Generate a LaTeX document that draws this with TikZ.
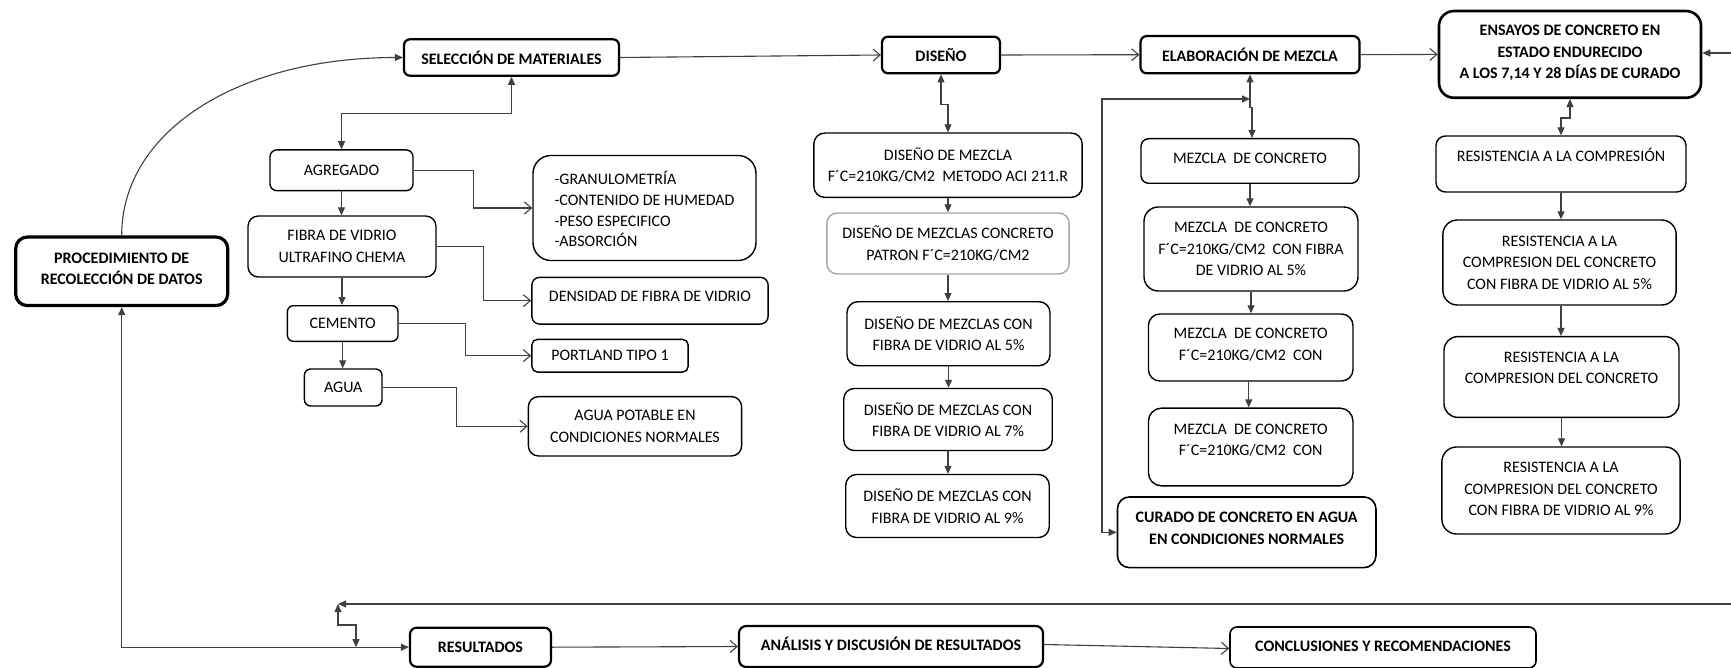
\documentclass[tikz,border=0pt]{standalone}
\usepackage{fontspec}
\setmainfont{Carlito}
\usetikzlibrary{arrows.meta}
\newcommand\fsz{\fontsize{16}{21.5}\selectfont}
\tikzset{
  box/.style={draw=black, line width=1.4pt, fill=white, inner sep=0pt},
  txt/.style={align=center, inner sep=0pt, font=\fsz},
  btxt/.style={align=center, inner sep=0pt, font=\fsz\bfseries},
  con/.style={draw=black!75, line width=1.1pt},
  ae/.style={-{Triangle[length=8pt,width=7pt]}},
  ab/.style={{Triangle[length=8pt,width=7pt]}-{Triangle[length=8pt,width=7pt]}},
  ao/.style={-{Straight Barb[length=7pt,width=12pt]}},
}
% name, cx, cy, w, h, radius, extra box style, text shift up, text
\newcommand\mybox[9]{%
  \node[box,#7,minimum width=#4pt,minimum height=#5pt,rounded corners=#6pt] (#1) at (#2,#3) {};
  \node[txt] (#1-t) at (#2,#3-#8) {#9};}
\newcommand\myboldbox[9]{%
  \node[box,#7,minimum width=#4pt,minimum height=#5pt,rounded corners=#6pt] (#1) at (#2,#3) {};
  \node[btxt] (#1-t) at (#2,#3-#8) {#9};}
\begin{document}
\begin{tikzpicture}[x=1pt,y=-1pt]
\fill[white] (0,0) rectangle (1731,668);
\useasboundingbox (0,0) rectangle (1731,668);

% ---- top row
\myboldbox{PROC}{121.7}{271.3}{212}{68.5}{11.5}{line width=3.2pt}{2.5}{PROCEDIMIENTO DE\\RECOLECCIÓN DE DATOS}
\myboldbox{SEL}{511.5}{57.5}{215}{36.4}{6}{line width=2.2pt}{0}{SELECCIÓN DE MATERIALES}
\myboldbox{DIS}{941}{55}{118}{36.6}{6}{line width=2.2pt}{0}{DISEÑO}
\myboldbox{ELAB}{1250}{54.7}{219}{37.3}{6.3}{line width=2.2pt}{0}{ELABORACIÓN DE MEZCLA}
\myboldbox{ENS}{1570}{54.4}{262}{86.7}{14.8}{line width=2.6pt}{1.5}{ENSAYOS DE CONCRETO EN\\ESTADO ENDURECIDO\\A LOS 7,14 Y 28 DÍAS DE CURADO}

% ---- materials column
\mybox{AGR}{341.5}{170.3}{143}{40.7}{6.8}{}{0}{AGREGADO}
\mybox{FIB}{342}{246.5}{188}{61}{10.4}{}{0}{FIBRA DE VIDRIO\\ULTRAFINO CHEMA}
\mybox{CEM}{342.7}{323.5}{110.6}{35.6}{6}{}{0}{CEMENTO}
\mybox{AGUA}{343.2}{387.5}{77.6}{37}{6.3}{}{0}{AGUA}
\node[box,minimum width=223pt,minimum height=105pt,rounded corners=17.9pt] (GRAN) at (644.5,208) {};
\node[txt,align=left,font=\fontsize{16}{20.8}\selectfont] (GRAN-t) at (644.5,209) {-GRANULOMETRÍA\\-CONTENIDO DE HUMEDAD\\-PESO ESPECIFICO\\-ABSORCIÓN};
\mybox{DENS}{650}{300.7}{236.3}{46.7}{7.8}{}{4}{DENSIDAD DE FIBRA DE VIDRIO}
\mybox{PORT}{610}{355.7}{156.3}{32.7}{5.6}{}{0}{PORTLAND TIPO 1}
\mybox{AGP}{635}{426.3}{213.2}{59.3}{10}{}{0}{AGUA POTABLE EN\\CONDICIONES NORMALES}

% ---- design column
\mybox{DDM}{948}{165.2}{268.3}{64.3}{10.9}{}{0}{DISEÑO DE MEZCLA\\F´C=210KG/CM2\ \ METODO ACI 211.R}
\mybox{DDP}{948}{243.5}{242.3}{61}{10.4}{draw=black!35}{0}{DISEÑO DE MEZCLAS CONCRETO\\PATRON F´C=210KG/CM2}
\mybox{D5}{948.5}{333.7}{203}{64}{11}{}{0}{DISEÑO DE MEZCLAS CON\\FIBRA DE VIDRIO AL 5\%}
\mybox{D7}{948}{419.5}{208.5}{62}{10.5}{}{0}{DISEÑO DE MEZCLAS CON\\FIBRA DE VIDRIO AL 7\%}
\mybox{D9}{947.5}{506}{203.5}{63}{10.7}{}{0}{DISEÑO DE MEZCLAS CON\\FIBRA DE VIDRIO AL 9\%}

% ---- mix column
\mybox{M0}{1250}{161}{218}{44.6}{7.7}{}{3}{MEZCLA\ \ DE CONCRETO}
\mybox{M5}{1251}{249}{214}{84}{14.3}{}{0}{MEZCLA\ \ DE CONCRETO\\F´C=210KG/CM2\ \ CON FIBRA\\DE VIDRIO AL 5\%}
\mybox{MA}{1250.7}{347.5}{204.5}{67}{11.4}{}{3}{MEZCLA\ \ DE CONCRETO\\F´C=210KG/CM2\ \ CON}
\mybox{MB}{1250.7}{447}{204.5}{77.7}{13}{}{7}{MEZCLA\ \ DE CONCRETO\\F´C=210KG/CM2\ \ CON}
\myboldbox{CUR}{1246.7}{532.3}{258.5}{70.7}{12}{line width=1.6pt}{4}{CURADO DE CONCRETO EN AGUA\\EN CONDICIONES NORMALES}

% ---- tests column
\mybox{RC}{1561}{164}{250}{56}{9.5}{}{9}{RESISTENCIA A LA COMPRESIÓN}
\mybox{R5}{1559.5}{262.5}{233.3}{85}{14.5}{}{0}{RESISTENCIA A LA\\COMPRESION DEL CONCRETO\\CON FIBRA DE VIDRIO AL 5\%}
\mybox{RA}{1561.5}{377}{235}{80.7}{13.7}{}{9}{RESISTENCIA A LA\\COMPRESION DEL CONCRETO}
\mybox{R9}{1561}{490.5}{238.3}{87}{14.8}{}{1.5}{RESISTENCIA A LA\\COMPRESION DEL CONCRETO\\CON FIBRA DE VIDRIO AL 9\%}

% ---- bottom row
\myboldbox{RES}{480.5}{647.2}{141}{39}{6.6}{line width=2.2pt}{0}{RESULTADOS}
\myboldbox{ANA}{891}{646.5}{304}{41}{7.3}{line width=2.2pt}{3}{ANÁLISIS Y DISCUSIÓN DE RESULTADOS}
\myboldbox{CON}{1383}{647.5}{306}{41}{7}{line width=1.6pt}{1.5}{CONCLUSIONES Y RECOMENDACIONES}

% ---- free ends / junctions
\coordinate (re1) at (1731,53);
\coordinate (re2) at (1731,604);
\coordinate (j1) at (1250,99);
\coordinate (j2) at (338,604);
\coordinate (j3) at (356,647.2);

% ---- connectors
\draw[con,ae] (PROC.north) .. controls (121.7,130) and (240,57.5) .. (SEL.west);
\draw[con,ab] (SEL.south) -- ++(0,37) -| (AGR.north);
\draw[con,ae] (AGR.south) -- (AGR.south |- FIB.north);
\draw[con,ae] (FIB.south) -- (FIB.south |- CEM.north);
\draw[con,ae] (CEM.south) -- (CEM.south |- AGUA.north);
\draw[con,ao] (AGR.east) -- ++(60,0) |- (GRAN.west);
\draw[con,ao] (FIB.east) -- ++(47,0) |- (DENS.west);
\draw[con,ao] (CEM.east) -- ++(67,0) |- (PORT.west);
\draw[con,ao] (AGUA.east) -- ++(74,0) |- (AGP.west);

\draw[con,ao] (SEL.east) -- (DIS.west);
\draw[con,ao] (DIS.east) -- (ELAB.west);
\draw[con,ao] (ELAB.east) -- (ENS.west);
\draw[con,ae] (re1) -- (re1 -| ENS.east);

\draw[con,ab] (DIS.south) -- ++(0,30) -| (DDM.north);
\draw[con,ae] (DDM.south) -- (DDM.south |- DDP.north);
\draw[con,ae] (DDP.south) -- (DDP.south |- D5.north);
\draw[con,ae] (D5.south) -- (D5.south |- D7.north);
\draw[con,ae] (D7.south) -- (D7.south |- D9.north);

\draw[con,ab] (ELAB.south) -- ++(0,33) -| ([xshift=2pt]M0.north);
\draw[con,ab] (CUR.west) -| (1102,99) -- (j1);
\draw[con,ae] (M0.south) -- (M0.south |- M5.north);
\draw[con,ae] (M5.south) -- (M5.south |- MA.north);
\draw[con,ae] ([xshift=-2pt]MA.south) -- ([xshift=-2pt]MA.south |- MB.north);

\draw[con,ab] (ENS.south) -- ++(0,19) -| (RC.north);
\draw[con,ae] (RC.south) -- (RC.south |- R5.north);
\draw[con,ae] ([xshift=1.5pt]R5.south) -- ([xshift=1.5pt]R5.south |- RA.north);
\draw[con,ae] (RA.south) -- (RA.south |- R9.north);

\draw[con,ab] (PROC.south) |- (RES.west);
\draw[con,ao] (RES.east) -- (ANA.west);
\draw[con,ao] ([yshift=2pt]ANA.east) -- ([yshift=-1pt]CON.west);
\draw[con,ae] (re2) -- (j2);
\draw[con,ab] (j2) -- ++(0,21) -| (j3);
\end{tikzpicture}
\end{document}
